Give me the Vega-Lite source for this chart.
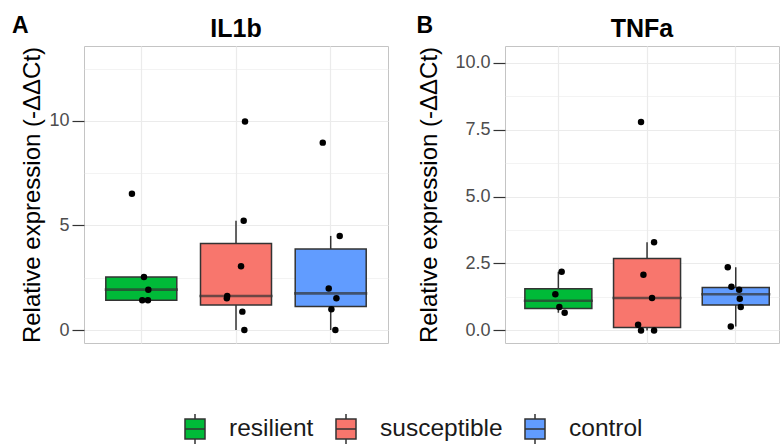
{
  "$schema": "https://vega.github.io/schema/vega-lite/v6.json",
  "padding": {"left": 11, "top": 14, "right": 0, "bottom": 0},
  "background": "white",
  "datasets": {
    "expr": [
      {"gene": "IL1b", "group": "resilient", "value": 6.52, "jitter": -0.099},
      {"gene": "IL1b", "group": "resilient", "value": 2.54, "jitter": 0.028},
      {"gene": "IL1b", "group": "resilient", "value": 1.93, "jitter": 0.074},
      {"gene": "IL1b", "group": "resilient", "value": 1.42, "jitter": 0.07},
      {"gene": "IL1b", "group": "resilient", "value": 1.42, "jitter": 0.01},
      {"gene": "IL1b", "group": "susceptible", "value": 9.97, "jitter": 0.095},
      {"gene": "IL1b", "group": "susceptible", "value": 5.23, "jitter": 0.081},
      {"gene": "IL1b", "group": "susceptible", "value": 3.05, "jitter": 0.053},
      {"gene": "IL1b", "group": "susceptible", "value": 1.63, "jitter": -0.093},
      {"gene": "IL1b", "group": "susceptible", "value": 1.52, "jitter": -0.097},
      {"gene": "IL1b", "group": "susceptible", "value": 0.88, "jitter": 0.067},
      {"gene": "IL1b", "group": "susceptible", "value": 0.0, "jitter": 0.088},
      {"gene": "IL1b", "group": "control", "value": 8.96, "jitter": -0.084},
      {"gene": "IL1b", "group": "control", "value": 4.5, "jitter": 0.095},
      {"gene": "IL1b", "group": "control", "value": 1.99, "jitter": -0.021},
      {"gene": "IL1b", "group": "control", "value": 1.52, "jitter": 0.06},
      {"gene": "IL1b", "group": "control", "value": 0.99, "jitter": 0.007},
      {"gene": "IL1b", "group": "control", "value": 0.0, "jitter": 0.049},
      {"gene": "TNFa", "group": "resilient", "value": 2.19, "jitter": 0.037},
      {"gene": "TNFa", "group": "resilient", "value": 1.35, "jitter": -0.034},
      {"gene": "TNFa", "group": "resilient", "value": 0.87, "jitter": 0.011},
      {"gene": "TNFa", "group": "resilient", "value": 0.66, "jitter": 0.071},
      {"gene": "TNFa", "group": "susceptible", "value": 7.78, "jitter": -0.068},
      {"gene": "TNFa", "group": "susceptible", "value": 3.29, "jitter": 0.079},
      {"gene": "TNFa", "group": "susceptible", "value": 2.08, "jitter": -0.041},
      {"gene": "TNFa", "group": "susceptible", "value": 1.21, "jitter": 0.056},
      {"gene": "TNFa", "group": "susceptible", "value": 0.21, "jitter": -0.101},
      {"gene": "TNFa", "group": "susceptible", "value": 0.0, "jitter": -0.068},
      {"gene": "TNFa", "group": "susceptible", "value": 0.0, "jitter": 0.079},
      {"gene": "TNFa", "group": "control", "value": 2.36, "jitter": -0.09},
      {"gene": "TNFa", "group": "control", "value": 1.63, "jitter": -0.049},
      {"gene": "TNFa", "group": "control", "value": 1.52, "jitter": 0.038},
      {"gene": "TNFa", "group": "control", "value": 1.18, "jitter": 0.045},
      {"gene": "TNFa", "group": "control", "value": 0.87, "jitter": 0.056},
      {"gene": "TNFa", "group": "control", "value": 0.15, "jitter": -0.056}
    ]
  },
  "hconcat": [
    {
      "title": {"text": "A", "anchor": "start", "frame": "bounds", "fontSize": 23, "fontWeight": "bold", "color": "black", "dx": -8.5, "offset": -21},
      "vconcat": [
        {
          "width": 304,
          "height": 297,
          "title": {"text": "IL1b", "fontSize": 25, "fontWeight": "bold", "color": "black", "anchor": "middle", "offset": 4},
          "data": {"name": "expr"},
          "transform": [{"filter": "datum.gene === 'IL1b'"}],
          "encoding": {
            "x": {"field": "group", "type": "nominal", "sort": ["resilient", "susceptible", "control"],
                  "scale": {"paddingInner": 0.2, "paddingOuter": 0.205, "align": 0.5},
                  "axis": {"title": null, "labels": false, "ticks": false, "domain": false, "grid": true, "bandPosition": 0.5, "gridColor": "#EBEBEB", "gridWidth": 1.2}},
            "y": {"field": "value", "type": "quantitative",
                  "scale": {"domain": [-0.62, 13.58], "nice": false, "zero": false},
                  "axis": {"title": "Relative expression (-ΔΔCt)", "values": [0, 2.5, 5, 7.5, 10, 12.5], "format": ".0f",
                           "labelExpr": "datum.value % 5 === 0 ? datum.label : ''",
                           "tickOpacity": {"condition": {"test": "datum.value % 5 === 0", "value": 1}, "value": 0},
                           "gridWidth": {"condition": {"test": "datum.value % 5 === 0", "value": 1.2}, "value": 0.6}}}
          },
          "layer": [
            {
              "mark": {"type": "boxplot", "extent": 1.5, "size": 71, "outliers": false,
                       "box": {"stroke": "#333333", "strokeWidth": 1.5},
                       "median": {"stroke": "#333333", "strokeWidth": 2.2, "thickness": 0.4},
                       "rule": {"color": "#333333", "strokeWidth": 1.5}},
              "encoding": {"fill": {"field": "group", "type": "nominal",
                                    "scale": {"domain": ["resilient", "susceptible", "control"], "range": ["#00BA38", "#F8766D", "#619CFF"]}}}
            },
            {
              "mark": {"type": "circle", "size": 42, "opacity": 1, "color": "black"},
              "encoding": {"xOffset": {"field": "jitter", "type": "quantitative", "scale": {"domain": [-0.4, 0.4], "range": [0, 75.8]}}}
            }
          ]
        }
      ]
    },
    {
      "title": {"text": "B", "anchor": "start", "frame": "bounds", "fontSize": 23, "fontWeight": "bold", "color": "black", "dx": -1, "offset": -21},
      "vconcat": [
        {
          "width": 274,
          "height": 297,
          "title": {"text": "TNFa", "fontSize": 25, "fontWeight": "bold", "color": "black", "anchor": "middle", "offset": 4},
          "data": {"name": "expr"},
          "transform": [{"filter": "datum.gene === 'TNFa'"}],
          "encoding": {
            "x": {"field": "group", "type": "nominal", "sort": ["resilient", "susceptible", "control"],
                  "scale": {"paddingInner": 0.2, "paddingOuter": 0.1445, "align": 0.697},
                  "axis": {"title": null, "labels": false, "ticks": false, "domain": false, "grid": true, "bandPosition": 0.5, "gridColor": "#EBEBEB", "gridWidth": 1.2}},
            "y": {"field": "value", "type": "quantitative",
                  "scale": {"domain": [-0.47, 10.62], "nice": false, "zero": false},
                  "axis": {"title": "Relative expression (-ΔΔCt)", "titlePadding": 13, "values": [0, 1.25, 2.5, 3.75, 5, 6.25, 7.5, 8.75, 10], "format": ".1f",
                           "labelExpr": "datum.value % 2.5 === 0 ? datum.label : ''",
                           "tickOpacity": {"condition": {"test": "datum.value % 2.5 === 0", "value": 1}, "value": 0},
                           "gridWidth": {"condition": {"test": "datum.value % 2.5 === 0", "value": 1.2}, "value": 0.6}}}
          },
          "layer": [
            {
              "mark": {"type": "boxplot", "extent": 1.5, "size": 67, "outliers": false,
                       "box": {"stroke": "#333333", "strokeWidth": 1.5},
                       "median": {"stroke": "#333333", "strokeWidth": 2.2, "thickness": 0.4},
                       "rule": {"color": "#333333", "strokeWidth": 1.5}},
              "encoding": {"fill": {"field": "group", "type": "nominal",
                                    "scale": {"domain": ["resilient", "susceptible", "control"], "range": ["#00BA38", "#F8766D", "#619CFF"]}}}
            },
            {
              "mark": {"type": "circle", "size": 42, "opacity": 1, "color": "black"},
              "encoding": {"xOffset": {"field": "jitter", "type": "quantitative", "scale": {"domain": [-0.4, 0.4], "range": [0, 71]}}}
            }
          ]
        }
      ]
    }
  ],
  "spacing": 27,
  "resolve": {"scale": {"x": "independent", "y": "independent", "xOffset": "independent", "fill": "shared"}},
  "config": {
    "font": "Liberation Sans",
    "view": {"stroke": "#C4C4C4", "strokeWidth": 1},
    "axisY": {"domain": false, "tickColor": "#333333", "tickSize": 12, "tickWidth": 1.2, "labelPadding": 3,
              "labelFontSize": 18, "labelColor": "#4D4D4D", "titleFontSize": 24, "titleFontWeight": "normal",
              "titleColor": "black", "gridColor": "#EBEBEB", "titlePadding": 4},
    "legend": {"orient": "none", "legendX": 95, "legendY": 367, "direction": "horizontal", "title": null,
               "symbolType": "M-0.667,-0.667H0.667V0.667H-0.667Z M-0.667,0H0.667 M0,-0.667V-1 M0,0.667V1",
               "symbolSize": 900, "symbolStrokeColor": "#333333", "symbolStrokeWidth": 1.5, "symbolOpacity": 1,
               "labelFontSize": 24.5, "labelColor": "#1A1A1A", "labelOffset": 18, "columnPadding": 16}
  }
}
